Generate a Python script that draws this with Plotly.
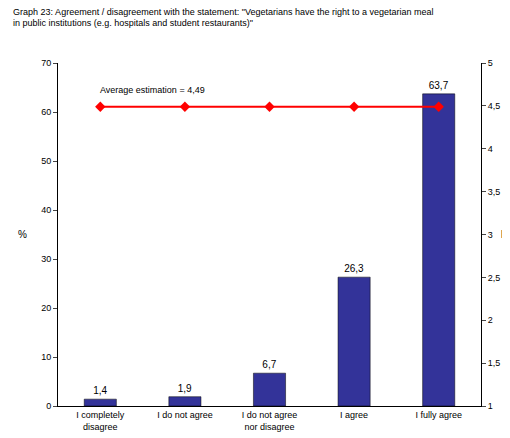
import plotly.graph_objects as go

categories = ["I completely<br>disagree", "I do not agree", "I do not agree<br>nor disagree", "I agree", "I fully agree"]
percent = [1.4, 1.9, 6.7, 26.3, 63.7]
labels = ["1,4", "1,9", "6,7", "26,3", "63,7"]
average = [4.49] * 5
right_ticks = [1, 1.5, 2, 2.5, 3, 3.5, 4, 4.5, 5]
right_labels = ["1", "1,5", "2", "2,5", "3", "3,5", "4", "4,5", "5"]

fig = go.Figure()
fig.add_bar(x=categories, y=percent, text=labels, textposition="outside",
            marker=dict(color="#333399", line=dict(color="#000000", width=0.5)),
            width=0.38, textfont=dict(size=10, color="black"), cliponaxis=False)
fig.add_scatter(x=categories, y=average, yaxis="y2", mode="lines+markers",
                line=dict(color="#ff0000", width=2),
                marker=dict(symbol="diamond", size=8, color="#ff0000"))
fig.add_annotation(x=0, y=4.69, yref="y2", text="Average estimation = 4,49", showarrow=False,
                   xanchor="left", xshift=-2, font=dict(size=9, color="black"))
fig.add_annotation(x=0, xref="paper", xshift=-42, y=0.5, yref="paper", text="%", showarrow=False,
                   xanchor="left", font=dict(size=10))
fig.add_annotation(x=1, xref="paper", xshift=30, y=0.5, yref="paper", text="<b>M</b>", showarrow=False,
                   xanchor="right", font=dict(size=10))
fig.update_layout(
    width=510, height=438, margin=dict(l=50, r=37, t=55, b=40, autoexpand=False),
    paper_bgcolor="white", plot_bgcolor="white", showlegend=False,
    font=dict(family="Liberation Sans, Arial", size=9, color="black"),
    title=dict(text="Graph 23: Agreement / disagreement with the statement: \"Vegetarians have the right to a vegetarian meal<br>in public institutions (e.g. hospitals and student restaurants)\"",
               x=0.01, xanchor="left", y=0.985, yanchor="top", font=dict(size=9)),
    xaxis=dict(showline=True, linecolor="black", ticks="", tickfont=dict(size=9), automargin=False),
    yaxis=dict(range=[0, 70], dtick=10, showline=True, linecolor="black", ticks="outside",
               ticklen=4, showgrid=False, zeroline=False, automargin=False),
    yaxis2=dict(range=[1, 5], overlaying="y", side="right", tickvals=right_ticks,
                ticktext=right_labels, showline=True, linecolor="black", ticks="outside",
                ticklen=4, showgrid=False, automargin=False),
)
fig.write_html("out.html")
